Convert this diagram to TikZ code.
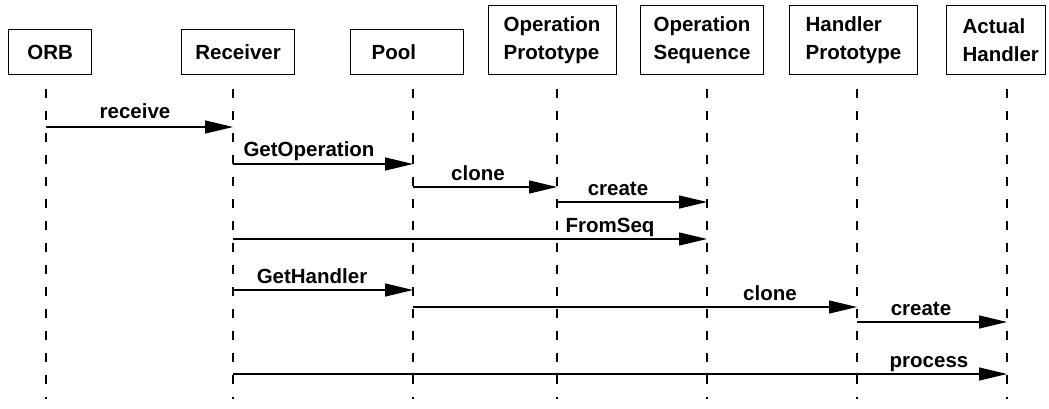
\documentclass[tikz,border=0pt]{standalone}
\usepackage{fontspec}
\setmainfont{Liberation Sans}
\usetikzlibrary{arrows.meta,calc}
\begin{document}
\begin{tikzpicture}[x=1pt,y=-1pt,
  box/.style={draw, line width=1.2pt, font=\bfseries\fontsize{20.5}{28.5}\selectfont, inner sep=0pt, anchor=north west},
  lifeline/.style={line width=1.2pt, dash pattern=on 9pt off 13pt},
  msg/.style={line width=1.2pt, -{Triangle[length=28pt,width=13pt]}},
  lbl/.style={font=\bfseries\fontsize{20.5}{24}\selectfont, anchor=base, inner sep=0pt}]
\useasboundingbox (0,0) rectangle (1049,409);
% boxes
\node[box, minimum width=83pt, minimum height=45pt, align=center] (orb) at (8,29) {ORB};
\node[box, minimum width=113pt, minimum height=45pt, align=center] (rcv) at (181,29) {Receiver};
\node[box, minimum width=113pt, minimum height=45pt, text width=71pt, inner xsep=21pt, align=left] (pool) at (350,29) {Pool};
\node[box, minimum width=128pt, minimum height=69pt, text width=98pt, inner xsep=15pt, align=left] (opp) at (488,5) {Operation\\Prototype};
\node[box, minimum width=123pt, minimum height=69pt, text width=97pt, inner xsep=13pt, align=left] (ops) at (640,5) {Operation\\Sequence};
\node[box, minimum width=128pt, minimum height=69pt, text width=96pt, inner xsep=16pt, align=left] (hp) at (789,5) {Handler\\Prototype};
\node[box, minimum width=99pt, minimum height=69pt, text width=67pt, inner xsep=16pt, align=left] (ah) at (946,5) {Actual\\Handler};
% lifelines
\coordinate (L1) at (46,0);
\coordinate (L2) at (233,0);
\coordinate (L3) at (413,0);
\coordinate (L4) at (557,0);
\coordinate (L5) at (707,0);
\coordinate (L6) at (857,0);
\coordinate (L7) at (1007,0);
\foreach \c in {L1,L2,L3,L4,L5,L6,L7}{
  \draw[lifeline] ($(\c)+(0,89)$) -- ($(\c)+(0,399)$);
}
% messages
\draw[msg] ($(L1)+(0,127)$) -- ($(L2)+(0,127)$);
\draw[msg] ($(L2)+(0,164)$) -- ($(L3)+(0,164)$);
\draw[msg] ($(L3)+(0,187)$) -- ($(L4)+(0,187)$);
\draw[msg] ($(L4)+(0,202)$) -- ($(L5)+(0,202)$);
\draw[msg] ($(L2)+(0,239)$) -- ($(L5)+(0,239)$);
\draw[msg] ($(L2)+(0,290)$) -- ($(L3)+(0,290)$);
\draw[msg] ($(L3)+(0,307)$) -- ($(L6)+(0,307)$);
\draw[msg] ($(L6)+(0,322)$) -- ($(L7)+(0,322)$);
\draw[msg] ($(L2)+(0,374)$) -- ($(L7)+(0,374)$);
% labels
\node[lbl] (l1) at (135,119) {receive};
\node[lbl] (l2) at (309,157) {GetOperation};
\node[lbl] (l3) at (478,180) {clone};
\node[lbl] (l4) at (618,195) {create};
\node[lbl] (l5) at (610,232) {FromSeq};
\node[lbl] (l6) at (312,283) {GetHandler};
\node[lbl] (l7) at (770,300) {clone};
\node[lbl] (l8) at (921,315) {create};
\node[lbl] (l9) at (929,367) {process};
\end{tikzpicture}
\end{document}
